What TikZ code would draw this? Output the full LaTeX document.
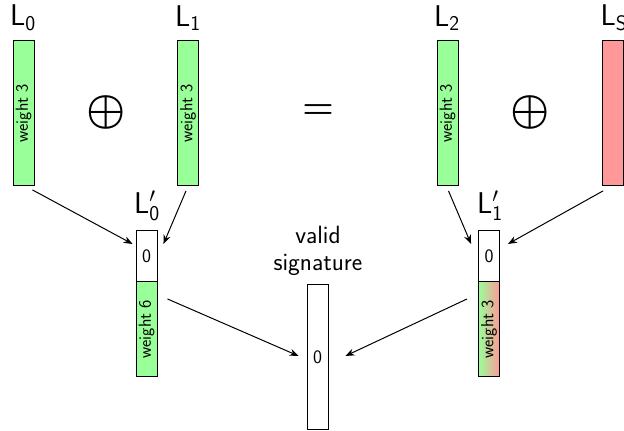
\RequirePackage{fix-cm}
\documentclass[tikz,border=0pt]{standalone}
\usetikzlibrary{arrows.meta,calc}
\usepackage{amsmath,bm}
\usepackage{fontspec}
\begin{document}
\begin{tikzpicture}[x=1pt,y=-1pt,
  every node/.style={font=\sffamily},
  bar/.style={draw=black,line width=0.9pt,minimum width=21pt,inner sep=0pt,anchor=north},
  green bar/.style={bar,fill=green!40},
  red bar/.style={bar,fill=red!40},
  white bar/.style={bar,fill=white},
  rlab/.style={rotate=90,font=\sffamily\fontsize{17.5}{18}\selectfont},
  zlab/.style={font=\sffamily\fontsize{19}{19}\selectfont},
  Llab/.style={font=\sffamily\fontsize{30}{30}\selectfont},
  op/.style={font=\fontsize{44}{44}\selectfont},
  conn/.style={-{Stealth[length=9pt,width=7pt]},line width=1pt}
]
\useasboundingbox (0,0) rectangle (624,431);
% top bars
\node[green bar,minimum height=145pt] (L0) at (23.5,40) {};
\node[rlab] (w0) at (L0.center) {weight 3};
\node[green bar,minimum height=145pt] (L1) at (188,40) {};
\node[rlab] (w1) at (L1.center) {weight 3};
\node[green bar,minimum height=145pt] (L2) at (447.5,40) {};
\node[rlab] (w2) at (L2.center) {weight 3};
\node[red bar,minimum height=145pt] (LS) at (613,40) {};
% labels
\node[Llab] (t0) at (23,18) {L$_{\mathsf{0}}$};
\node[Llab] (t1) at (188,18) {L$_{\mathsf{1}}$};
\node[Llab] (t2) at (447,18) {L$_{\mathsf{2}}$};
\node[Llab] (tS) at (614,18) {L$_{\mathsf{S}}$};
% operators
\node[op] (p1) at (106,112) {$\bm{\oplus}$};
\node[op,font=\fontsize{36}{36}\selectfont] (eq) at (318,112) {$\bm{=}$};
\node[op] (p2) at (530,112) {$\bm{\oplus}$};
% L'0
\node[white bar,minimum height=51pt] (A0) at (146.5,230) {};
\node[zlab] (z0) at (A0.center) {0};
\node[green bar,minimum height=95pt] (B0) at (146.5,281) {};
\node[rlab] (w4) at (B0.center) {weight 6};
\node[Llab] (t3) at (147,206) {L$'_{\mathsf{0}}$};
% L'1
\node[white bar,minimum height=51pt] (A1) at (489,230) {};
\node[zlab] (z1) at (A1.center) {0};
\node[bar,left color=green!40,right color=red!40,minimum height=95pt] (B1) at (489,281) {};
\node[rlab] (w5) at (B1.center) {weight 3};
\node[Llab] (t4) at (490,206) {L$'_{\mathsf{1}}$};
% valid signature
\node[white bar,minimum height=145pt] (V) at (317.5,284) {};
\node[zlab] (z2) at (V.center) {0};
\node[font=\sffamily\fontsize{25}{27}\selectfont,align=center] (vs) at (318,251) {valid\\signature};
% arrows
\draw[conn] ($(L0.south east)+(-2,4)$) -- ($(A0.west)+(-3,-12)$);
\draw[conn] ($(L1.south)+(-2,5)$) -- ($(A0.east)+(6,-12)$);
\draw[conn] ($(L2.south)+(1,5)$) -- ($(A1.west)+(-7,-12)$);
\draw[conn] ($(LS.south west)+(1,5)$) -- ($(A1.east)+(8,-12)$);
\draw[conn] ($(B0.east)+(10,-30)$) -- ($(V.west)+(-8,-1)$);
\draw[conn] ($(B1.west)+(-11,-30)$) -- ($(V.east)+(17,-1)$);
\end{tikzpicture}
\end{document}
